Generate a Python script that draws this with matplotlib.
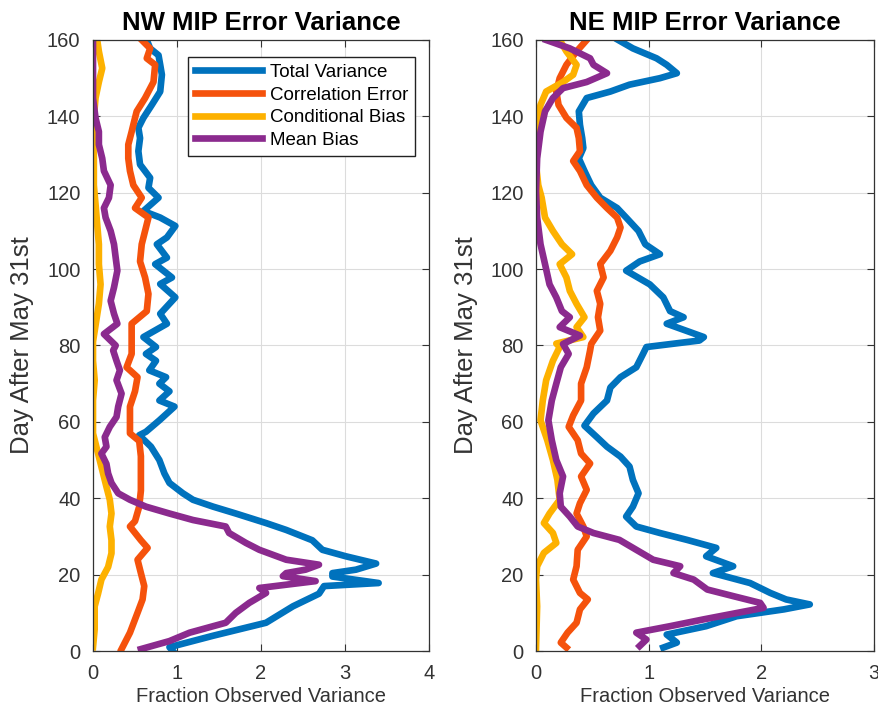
import matplotlib.pyplot as plt

plt.rcParams['font.family'] = ['Liberation Sans', 'DejaVu Sans']

# ---- NW panel (day, value) ----
nw_total_day = [0, 1, 4, 7.4, 11.7, 15, 17, 17.8, 19.5, 20.4, 21.3, 22.9, 24.8, 26.5, 29, 31.7, 33.5, 36,
                37.8, 39.6, 41.3, 44, 46.5, 50, 53.5, 56.5, 57.4, 60.4, 64, 65.6, 68, 70, 71.7, 73.5, 76,
                77.8, 79.6, 82.2, 85.7, 88.3, 92.6, 96.1, 97.8, 101.3, 103, 106.5, 108.3, 111.3, 113.5,
                115.2, 118.7, 121.3, 123.9, 127.4, 130.9, 134.3, 137, 139.6, 143, 146.5, 150.9, 153.5,
                156, 157.8, 160]
nw_total = [0.95, 0.91, 1.43, 2.06, 2.38, 2.69, 2.75, 3.40, 2.85, 2.85, 3.13, 3.37, 3.01, 2.73, 2.61, 2.30,
            2.06, 1.70, 1.43, 1.19, 1.07, 0.91, 0.85, 0.79, 0.69, 0.55, 0.63, 0.79, 0.97, 0.79, 0.91, 0.79,
            0.87, 0.67, 0.75, 0.63, 0.75, 0.60, 0.88, 0.80, 0.98, 0.80, 0.94, 0.74, 0.88, 0.76, 0.88, 0.98,
            0.80, 0.60, 0.78, 0.66, 0.68, 0.56, 0.54, 0.56, 0.54, 0.60, 0.70, 0.80, 0.82, 0.80, 0.78, 0.68,
            0.64]

nw_corr_day = [0.5, 4.8, 10, 13.5, 17, 20.4, 23.9, 27, 29, 32.6, 34, 37.8, 42, 46.5, 51, 55, 57, 60.4, 64,
               68, 71.7, 74.3, 77.8, 81, 85.7, 89, 93.5, 97.8, 102, 106.5, 110, 113.5, 116, 118.7, 122,
               125.7, 129, 132.6, 136, 137.8, 141.3, 144.8, 149, 153.5, 155.2, 157.8, 160]
nw_corr = [0.34, 0.44, 0.53, 0.59, 0.61, 0.57, 0.53, 0.65, 0.57, 0.44, 0.50, 0.55, 0.57, 0.57, 0.57, 0.55,
           0.44, 0.44, 0.44, 0.50, 0.53, 0.40, 0.46, 0.46, 0.46, 0.64, 0.66, 0.62, 0.56, 0.58, 0.62, 0.66,
           0.50, 0.58, 0.48, 0.44, 0.42, 0.42, 0.46, 0.48, 0.52, 0.62, 0.72, 0.74, 0.64, 0.68, 0.58]

nw_cond_day = [1, 5.7, 11.7, 15, 18.7, 22, 25.6, 29, 32.6, 36, 39.6, 43, 46.5, 50, 53.5, 57, 60.4, 65.6,
               70.9, 76, 81, 90.9, 96, 101.3, 106.5, 111.7, 117, 122, 129, 136, 139.6, 144.8, 149, 152.6,
               157, 160]
nw_cond = [0.0, 0.02, 0.02, 0.06, 0.10, 0.18, 0.22, 0.22, 0.20, 0.22, 0.20, 0.16, 0.12, 0.08, 0.04, 0.0,
           0.0, 0.0, 0.02, 0.0, 0.0, 0.07, 0.09, 0.07, 0.07, 0.05, 0.03, 0.01, 0.01, 0.0, 0.01, 0.03, 0.07,
           0.11, 0.07, 0.05]

nw_mean_day = [0.5, 2.6, 4.8, 7.4, 10, 12.6, 15.2, 16.5, 18.3, 19.6, 20.4, 21.3, 22.6, 23.9, 26.5, 28.3,
               30.9, 32.6, 34.3, 36, 37.8, 39.6, 41.3, 44, 46.5, 49, 51.7, 53.5, 56, 58.7, 61.3, 64, 67.4,
               70.9, 73.5, 76, 78.7, 80, 83, 85.7, 88.3, 91.7, 95.2, 99.6, 103, 106.5, 110, 113.5, 116,
               118.7, 122, 125.7, 129, 132.6, 136, 139.6, 144.8, 153.5, 160]
nw_mean = [0.57, 0.91, 1.15, 1.58, 1.70, 1.86, 2.06, 1.98, 2.65, 2.26, 2.30, 2.53, 2.69, 2.30, 1.98, 1.82,
           1.62, 1.58, 1.19, 0.91, 0.63, 0.44, 0.30, 0.22, 0.18, 0.16, 0.10, 0.16, 0.14, 0.20, 0.28, 0.30,
           0.34, 0.28, 0.32, 0.28, 0.24, 0.27, 0.13, 0.29, 0.25, 0.21, 0.25, 0.29, 0.27, 0.25, 0.21, 0.15,
           0.13, 0.19, 0.21, 0.13, 0.11, 0.07, 0.07, 0.03, 0.0, 0.0, 0.0]

# ---- NE panel (day, value) ----
ne_total_day = [0.9, 2.2, 4.3, 6.5, 9.1, 10.9, 12.2, 13.5, 15.2, 17.8, 20.4, 22.2, 24.8, 27, 29.1, 30.9,
                32.6, 35.2, 37.8, 41.3, 44.8, 48.3, 50.9, 53.5, 56, 59, 62.2, 65.6, 69, 71.7, 74.3, 77.8,
                79.6, 81.3, 82.2, 85.7, 87.4, 89, 92.6, 96, 99.6, 102, 103.9, 106.5, 110, 113.5, 116, 118.7,
                122, 125.7, 129, 131.7, 134.3, 137.8, 141.3, 144.8, 146.5, 148.3, 150, 151.3, 153.5, 155.2,
                157.8, 160]
ne_total = [1.13, 1.25, 1.16, 1.51, 1.78, 2.20, 2.43, 2.22, 2.08, 1.90, 1.57, 1.75, 1.51, 1.60, 1.34, 1.10,
            0.89, 0.80, 0.86, 0.91, 0.86, 0.83, 0.75, 0.63, 0.54, 0.43, 0.51, 0.63, 0.66, 0.75, 0.89, 0.95,
            0.98, 1.45, 1.49, 1.16, 1.31, 1.19, 1.13, 1.01, 0.80, 0.92, 1.10, 0.97, 0.91, 0.80, 0.72, 0.57,
            0.49, 0.43, 0.38, 0.42, 0.41, 0.39, 0.38, 0.45, 0.66, 0.83, 1.10, 1.25, 1.16, 1.07, 0.86, 0.73]

ne_corr_day = [0.9, 2.2, 4.8, 7.4, 10.9, 13.5, 15.2, 18.7, 22.2, 26.5, 30, 32.6, 36, 38.7, 42.2, 45.7, 49.1,
               51.7, 55.2, 58.7, 61.7, 65.6, 70, 74.3, 78.7, 80.4, 83.9, 87.4, 90.9, 94.3, 97.8, 101.3,
               104.8, 108.3, 110.9, 113.5, 116, 118.7, 122, 125.7, 128.3, 130.9, 134.3, 137, 139.6, 143,
               146.5, 150, 153.5, 157, 160]
ne_corr = [0.27, 0.22, 0.28, 0.36, 0.39, 0.46, 0.39, 0.33, 0.36, 0.37, 0.45, 0.42, 0.36, 0.39, 0.45, 0.40,
           0.48, 0.40, 0.37, 0.29, 0.33, 0.40, 0.40, 0.45, 0.48, 0.49, 0.57, 0.55, 0.57, 0.54, 0.60, 0.57,
           0.66, 0.72, 0.75, 0.72, 0.63, 0.54, 0.45, 0.39, 0.33, 0.39, 0.38, 0.36, 0.27, 0.20, 0.18, 0.21,
           0.27, 0.36, 0.45]

ne_cond_day = [0.9, 11.7, 18.7, 22.2, 25.7, 28.3, 30.9, 33.5, 36, 39.6, 44.8, 50, 55.2, 60.4, 65.6, 70.9,
               76, 79.6, 80.5, 82.2, 84.8, 87.4, 90.9, 94.3, 97.8, 101.3, 103.9, 106.5, 110, 113.5, 118.7,
               122, 127.4, 132.6, 137.8, 143, 146.5, 149, 150.9, 153.5, 157, 160]
ne_cond = [0.0, 0.01, 0.0, 0.01, 0.07, 0.18, 0.15, 0.07, 0.12, 0.21, 0.19, 0.15, 0.10, 0.04, 0.06, 0.09,
           0.15, 0.21, 0.18, 0.42, 0.36, 0.43, 0.36, 0.30, 0.27, 0.21, 0.32, 0.23, 0.15, 0.08, 0.05, 0.02,
           0.0, 0.0, 0.01, 0.04, 0.09, 0.24, 0.33, 0.36, 0.27, 0.21]

ne_mean_day = [1.3, 3, 4.8, 6.5, 8.3, 10, 11.3, 12.6, 14.3, 16.1, 18.7, 20.4, 22.2, 23.9, 26.5, 29.1, 30.9,
               32.6, 35.2, 37.8, 41.3, 45.7, 50, 55.2, 60.4, 65.6, 70, 74.3, 77.8, 80.4, 82.6, 84.8, 87.4,
               89, 92.6, 96, 101.3, 106.5, 113.5, 120.4, 129, 136, 141.3, 144.8, 147.4, 149, 151.3, 153.5,
               155.2, 157.8, 160]
ne_mean = [0.92, 0.98, 0.89, 1.19, 1.49, 1.79, 2.02, 1.99, 1.76, 1.52, 1.40, 1.22, 1.28, 1.04, 0.89, 0.74,
           0.51, 0.37, 0.30, 0.22, 0.21, 0.24, 0.18, 0.14, 0.11, 0.14, 0.18, 0.22, 0.29, 0.24, 0.39, 0.21,
           0.30, 0.23, 0.18, 0.12, 0.08, 0.04, 0.01, 0.0, 0.01, 0.04, 0.08, 0.15, 0.24, 0.45, 0.63, 0.51,
           0.48, 0.30, 0.09]

labels = ['Total Variance', 'Correlation Error', 'Conditional Bias', 'Mean Bias']
colors = ['#0072BD', '#F5520C', '#FDB100', '#8B2A8E']

fig = plt.figure(figsize=(8.79, 7.09), dpi=100)
ax1 = fig.add_axes([0.1058, 0.0818, 0.3823, 0.8618])
ax2 = fig.add_axes([0.6098, 0.0818, 0.3845, 0.8618])

panels = [
    (ax1, 'NW MIP Error Variance', 4,
     [(nw_total, nw_total_day), (nw_corr, nw_corr_day), (nw_cond, nw_cond_day), (nw_mean, nw_mean_day)]),
    (ax2, 'NE MIP Error Variance', 3,
     [(ne_total, ne_total_day), (ne_corr, ne_corr_day), (ne_cond, ne_cond_day), (ne_mean, ne_mean_day)]),
]

for ax, title, xmax, series in panels:
    for (vals, days), c, lab in zip(series, colors, labels):
        ax.plot(vals, days, color=c, lw=4.8, label=lab, solid_joinstyle='round')
    ax.set_xlim(0, xmax)
    ax.set_ylim(0, 160)
    ax.set_xticks(range(0, xmax + 1))
    ax.set_yticks(range(0, 161, 20))
    ax.grid(True, color='#dcdcdc', lw=0.8)
    ax.set_axisbelow(True)
    ax.tick_params(direction='in', top=True, right=True, labelsize=14.5, length=5, pad=9, color='#333333')
    for sp in ax.spines.values():
        sp.set_color('#333333')
        sp.set_linewidth(0.9)
    ax.set_title(title, fontsize=18.5, fontweight='bold', pad=7)
    ax.set_xlabel('Fraction Observed Variance', fontsize=14.5, labelpad=3, color='#333333')
    ax.set_ylabel('Day After May 31st', fontsize=18.5, labelpad=9, color='#333333')
    for lbl in ax.get_xticklabels() + ax.get_yticklabels():
        lbl.set_color('#333333')

leg = ax1.legend(loc='upper right', bbox_to_anchor=(0.958, 0.972), borderaxespad=0, fontsize=13.5,
                 handlelength=3.6, labelspacing=0.3, fancybox=False, framealpha=1, edgecolor='#222222',
                 borderpad=0.35, handletextpad=0.4)
leg.get_frame().set_linewidth(1.0)

fig.savefig('out.png', dpi=100)
